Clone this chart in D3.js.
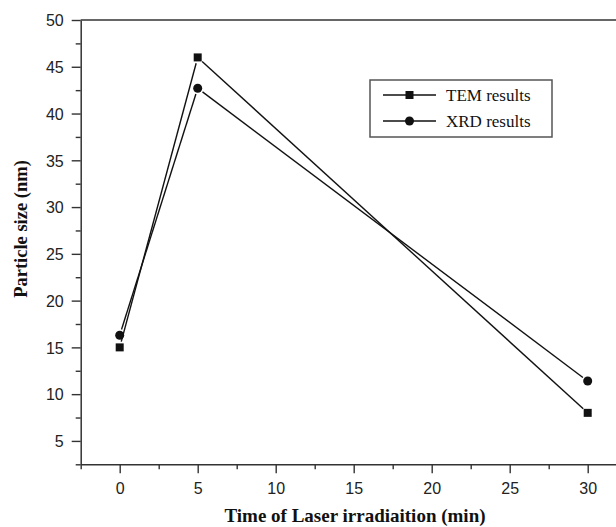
<!DOCTYPE html>
<html>
<head>
<meta charset="utf-8">
<script src="https://cdn.jsdelivr.net/npm/d3@7"></script>
<style>
  body { margin: 0; background: #fff; }
  svg { display: block; }
</style>
</head>
<body>
<div class="chart"></div>
<script>
// data
const timeMin = [0, 5, 30];
const temSize = [15, 46, 8];
const xrdSize = [16.3, 42.7, 11.4];
const xTicks = [0, 5, 10, 15, 20, 25, 30];
const yTicks = [5, 10, 15, 20, 25, 30, 35, 40, 45, 50];
const seriesNames = ["TEM results", "XRD results"];

const width = 616;
const height = 527;

const svg = d3.select(".chart")
  .append("svg")
  .attr("width", width)
  .attr("height", height);

const plotLeft = 80.7, plotTop = 20, plotBottom = 464.3;

const x = d3.scaleLinear().domain([-2.5, 32.5]).range([plotLeft, plotLeft + 35 * 15.6]);
const y = d3.scaleLinear().domain([2.5, 50]).range([plotBottom, plotTop]);

const axisColor = "#333";

// minor ticks
const xMinor = d3.range(-2.5, 33, 5);
const yMinor = d3.range(2.5, 50, 5);

svg.append("g")
  .attr("transform", `translate(0,${plotBottom})`)
  .call(d3.axisBottom(x).tickValues(xMinor).tickSize(5).tickFormat(""))
  .call(g => g.select(".domain").remove())
  .call(g => g.selectAll("line").attr("stroke", axisColor).attr("stroke-width", 1.4));

svg.append("g")
  .attr("transform", `translate(${plotLeft},0)`)
  .call(d3.axisLeft(y).tickValues(yMinor).tickSize(5).tickFormat(""))
  .call(g => g.select(".domain").remove())
  .call(g => g.selectAll("line").attr("stroke", axisColor).attr("stroke-width", 1.4));

// major axes
const xAxisG = svg.append("g")
  .attr("transform", `translate(0,${plotBottom})`)
  .call(d3.axisBottom(x).tickValues(xTicks).tickSize(9).tickSizeOuter(0).tickPadding(9));

const yAxisG = svg.append("g")
  .attr("transform", `translate(${plotLeft},0)`)
  .call(d3.axisLeft(y).tickValues(yTicks).tickSize(9).tickSizeOuter(0).tickPadding(8));

[xAxisG, yAxisG].forEach(g => {
  g.select(".domain").attr("stroke", axisColor).attr("stroke-width", 1.5);
  g.selectAll("line").attr("stroke", axisColor).attr("stroke-width", 1.4);
  g.selectAll("text")
    .attr("fill", "#222")
    .style("font-family", "'Liberation Sans', Arial, sans-serif")
    .style("font-size", "16px");
});
yAxisG.selectAll("text").attr("dy", "0.36em");

// top frame line
svg.append("line")
  .attr("x1", plotLeft).attr("x2", width)
  .attr("y1", y(50)).attr("y2", y(50))
  .attr("stroke", axisColor).attr("stroke-width", 1.5);

// axis titles
svg.append("text")
  .attr("x", 355).attr("y", 522)
  .attr("text-anchor", "middle")
  .style("font-family", "'Liberation Serif', 'Times New Roman', serif")
  .style("font-weight", "bold")
  .style("font-size", "19px")
  .attr("fill", "#111")
  .text("Time of Laser irradiaition (min)");

svg.append("text")
  .attr("transform", "translate(27,229) rotate(-90)")
  .attr("text-anchor", "middle")
  .style("font-family", "'Liberation Serif', 'Times New Roman', serif")
  .style("font-weight", "bold")
  .style("font-size", "18.5px")
  .attr("fill", "#111")
  .text("Particle size (nm)");

// lines with small gaps at the markers
const gap = 6;
function drawSeries(values, shape) {
  const pts = timeMin.map((t, i) => [x(t), y(values[i])]);
  const segs = d3.pairs(pts).map(([a, b]) => {
    const dx = b[0] - a[0], dy = b[1] - a[1];
    const len = Math.hypot(dx, dy);
    const ux = dx / len, uy = dy / len;
    return [a[0] + ux * gap, a[1] + uy * gap, b[0] - ux * gap, b[1] - uy * gap];
  });
  svg.append("g").selectAll("line")
    .data(segs)
    .join("line")
    .attr("x1", d => d[0]).attr("y1", d => d[1])
    .attr("x2", d => d[2]).attr("y2", d => d[3])
    .attr("stroke", "#111").attr("stroke-width", 1.4);

  const m = svg.append("g").attr("fill", "#111");
  if (shape === "square") {
    m.selectAll("rect").data(pts).join("rect")
      .attr("x", d => d[0] - 4).attr("y", d => d[1] - 4)
      .attr("width", 8).attr("height", 8);
  } else {
    m.selectAll("circle").data(pts).join("circle")
      .attr("cx", d => d[0]).attr("cy", d => d[1]).attr("r", 4.5);
  }
}
drawSeries(temSize, "square");
drawSeries(xrdSize, "circle");

// legend
const legend = svg.append("g");
legend.append("rect")
  .attr("x", 370).attr("y", 80).attr("width", 182).attr("height", 57)
  .attr("fill", "#fff").attr("stroke", "#555").attr("stroke-width", 1.5);

const rows = legend.selectAll("g.row")
  .data(seriesNames)
  .join("g")
  .attr("class", "row")
  .attr("transform", (d, i) => `translate(0,${95 + i * 26})`);

rows.append("line")
  .attr("x1", 383).attr("x2", 436)
  .attr("stroke", "#111").attr("stroke-width", 1.4);

rows.filter((d, i) => i === 0).append("rect")
  .attr("x", 405.5).attr("y", -4).attr("width", 8).attr("height", 8).attr("fill", "#111");
rows.filter((d, i) => i === 1).append("circle")
  .attr("cx", 409.5).attr("cy", 0).attr("r", 4.5).attr("fill", "#111");

rows.append("text")
  .attr("x", 446).attr("y", 5.5)
  .style("font-family", "'Liberation Serif', 'Times New Roman', serif")
  .style("font-size", "17px")
  .attr("fill", "#111")
  .text(d => d);
</script>
</body>
</html>
